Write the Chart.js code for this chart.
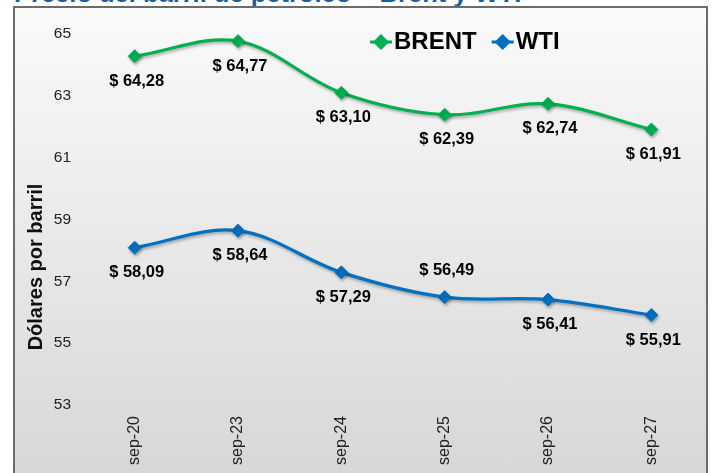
<!DOCTYPE html>
<html>
<head>
<meta charset="utf-8">
<script src="https://cdn.jsdelivr.net/npm/chart.js@4.4.0/dist/chart.umd.min.js"></script>
<style>
html, body { margin: 0; padding: 0; background: #fff; }
body { width: 712px; height: 473px; position: relative; overflow: hidden; font-family: "Liberation Sans", Arial, sans-serif; }
#titulo { position: absolute; left: 14px; top: -20px; font-size: 25.5px; line-height: 26px; font-weight: bold; color: #1f5c99; white-space: nowrap; }
#marco { position: absolute; left: 13px; top: 6px; width: 691px; height: 480px; border: 2px solid #6b6b6b; background: linear-gradient(#fafafa, #d6d6d6); }
#grafica { position: absolute; left: 0; top: 0; }
</style>
</head>
<body>
<div id="titulo">Precio del barril de petróleo – Brent y WTI</div>
<div id="marco"></div>
<canvas id="grafica" width="712" height="473"></canvas>
<script>
// datos
const fechas = ['sep-20', 'sep-23', 'sep-24', 'sep-25', 'sep-26', 'sep-27']
const brent = [64.28, 64.77, 63.10, 62.39, 62.74, 61.91]
const wti = [58.09, 58.64, 57.29, 56.49, 56.41, 55.91]
const ticksY = [53, 55, 57, 59, 61, 63, 65]
const tituloY = 'Dólares por barril'

// donde va cada etiqueta (arriba / abajo del punto)
const posBrent = ['abajo', 'abajo', 'abajo', 'abajo', 'abajo', 'abajo']
const posWti = ['abajo', 'abajo', 'abajo', 'arriba', 'abajo', 'abajo']

const verde = '#00b050'
const azul = '#0070c0'

Chart.defaults.font.family = '"Liberation Sans", Arial, sans-serif'

const formato = v => '$ ' + v.toFixed(2).replace('.', ',')

const sombra = {
    id: 'sombra',
    beforeDatasetsDraw(chart) {
        const ctx = chart.ctx
        ctx.save()
        ctx.shadowColor = 'rgba(0,0,0,0.3)'
        ctx.shadowBlur = 3
        ctx.shadowOffsetY = 2
        ctx.shadowOffsetX = 1
    },
    afterDatasetsDraw(chart) {
        chart.ctx.restore()
    }
}

const etiquetas = {
    id: 'etiquetas',
    afterDraw(chart) {
        const ctx = chart.ctx
        ctx.save()
        ctx.font = 'bold 16.5px "Liberation Sans", Arial, sans-serif'
        ctx.fillStyle = '#000'
        ctx.textAlign = 'center'
        ctx.textBaseline = 'middle'
        chart.data.datasets.forEach((ds, i) => {
            const meta = chart.getDatasetMeta(i)
            meta.data.forEach((p, j) => {
                const dy = ds.posiciones[j] === 'arriba' ? -27 : 25
                ctx.fillText(formato(ds.data[j]), p.x + 2, p.y + dy)
            })
        })

        // titulo del eje y (Excel lo deja algo abajo del centro)
        ctx.translate(36, 267)
        ctx.rotate(-Math.PI / 2)
        ctx.font = 'bold 20px "Liberation Sans", Arial, sans-serif'
        ctx.fillStyle = '#111'
        ctx.fillText(tituloY, 0, 0)
        ctx.restore()
    }
}

const leyenda = {
    id: 'leyenda',
    afterDraw(chart) {
        const ctx = chart.ctx
        ctx.save()
        ctx.font = 'bold 24px "Liberation Sans", Arial, sans-serif'
        ctx.textBaseline = 'middle'
        let x = 370
        const y = 42
        chart.data.datasets.forEach(ds => {
            ctx.strokeStyle = ds.borderColor
            ctx.fillStyle = ds.borderColor
            ctx.lineWidth = 3
            ctx.beginPath()
            ctx.moveTo(x, y)
            ctx.lineTo(x + 22, y)
            ctx.stroke()
            Chart.helpers.drawPoint(ctx, { pointStyle: 'rectRot', radius: 6, rotation: 0, borderWidth: 1 }, x + 11, y)
            ctx.fillStyle = '#000'
            ctx.fillText(ds.label, x + 24, y)
            x += 24 + ctx.measureText(ds.label).width + 15
        })
        ctx.restore()
    }
}

const grafica = new Chart(document.getElementById('grafica'), {
    type: 'line',
    data: {
        labels: fechas,
        datasets: [
            {
                label: 'BRENT',
                data: brent,
                posiciones: posBrent,
                borderColor: verde,
                backgroundColor: verde,
                borderWidth: 3.2,
                tension: 0.35,
                pointStyle: 'rectRot',
                pointRadius: 6.5,
                pointBorderWidth: 1
            },
            {
                label: 'WTI',
                data: wti,
                posiciones: posWti,
                borderColor: azul,
                backgroundColor: azul,
                borderWidth: 3.2,
                tension: 0.35,
                pointStyle: 'rectRot',
                pointRadius: 6.5,
                pointBorderWidth: 1
            }
        ]
    },
    options: {
        responsive: false,
        animation: false,
        layout: { padding: { top: 34, right: 9, bottom: 0, left: 0 } },
        plugins: {
            legend: { display: false },
            tooltip: { enabled: false }
        },
        scales: {
            x: {
                offset: true,
                grid: { display: false },
                border: { display: false },
                afterFit: s => { s.height = 68 },
                ticks: { minRotation: 90, maxRotation: 90, padding: 3, color: '#222', font: { size: 16 } }
            },
            y: {
                min: ticksY[0],
                max: ticksY[ticksY.length - 1],
                grid: { display: false },
                border: { display: false },
                afterBuildTicks: s => { s.ticks = ticksY.map(v => ({ value: v })) },
                afterFit: s => { s.width = 83 },
                ticks: { padding: 4, color: '#222', font: { size: 15.5 } }
            }
        }
    },
    plugins: [sombra, etiquetas, leyenda]
})
</script>
</body>
</html>
